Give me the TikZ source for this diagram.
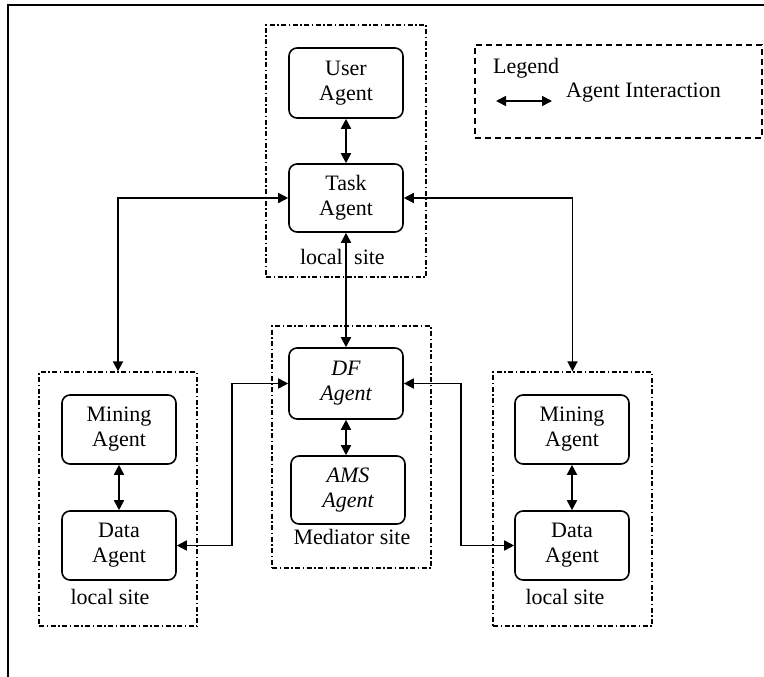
\documentclass[tikz,border=0pt]{standalone}
\usepackage{fontspec}
\setmainfont{Liberation Serif}
\usetikzlibrary{arrows.meta}
\tikzset{
  agent/.style={draw, line width=1.6pt, rounded corners=8pt, minimum width=114pt, minimum height=69pt, align=center, inner sep=0pt, font=\fontsize{22}{25}\selectfont},
  sitebox/.style={draw, line width=1.3pt, dash pattern=on 5pt off 2.5pt on 1.5pt off 2.5pt, inner sep=0pt},
  legendbox/.style={draw, line width=1.3pt, dash pattern=on 6pt off 4pt, inner sep=0pt},
  link/.style={line width=1.7pt, {Triangle[length=10pt,width=10pt]}-{Triangle[length=10pt,width=10pt]}},
  lbl/.style={inner sep=0pt, font=\fontsize{22}{25}\selectfont}
}
\begin{document}
\begin{tikzpicture}[x=1pt,y=-1pt]
\useasboundingbox (0,0) rectangle (764,677);
% outer frame (left and top edges visible)
\draw[line width=2pt] (8,677) -- (8,5) -- (764,5);
% site boxes
\node[sitebox, minimum width=160pt, minimum height=252pt] (topsite) at (346,151) {};
\node[sitebox, minimum width=159pt, minimum height=242pt] (medsite) at (351.5,447) {};
\node[sitebox, minimum width=158pt, minimum height=254pt] (lsite) at (118,499) {};
\node[sitebox, minimum width=159pt, minimum height=254pt] (rsite) at (572.5,499) {};
\node[legendbox, minimum width=287pt, minimum height=93pt] (legend) at (618.5,91.5) {};
% agents
\node[agent, minimum height=70pt] (user) at (346,83) {User\\Agent};
\node[agent, minimum height=68pt] (task) at (346,198) {Task\\Agent};
\node[agent, minimum height=71pt, font=\fontsize{22}{25}\selectfont\itshape] (df) at (346,383.5) {DF\\Agent};
\node[agent, minimum height=68pt, font=\fontsize{22}{25}\selectfont\itshape] (ams) at (348,490) {AMS\\Agent};
\node[agent] (lmine) at (119,429.5) {Mining\\Agent};
\node[agent] (ldata) at (119,545.5) {Data\\Agent};
\node[agent] (rmine) at (572,429.5) {Mining\\Agent};
\node[agent] (rdata) at (572,545.5) {Data\\Agent};
% labels
\node[lbl, anchor=east] (tl1) at (343,257) {local};
\node[lbl, anchor=west] (tl2) at (354,257) {site};
\node[lbl] (medlbl) at (352,537) {Mediator site};
\node[lbl] (llbl) at (110,597) {local site};
\node[lbl] (rlbl) at (565,597) {local site};
\node[lbl, anchor=west] (legtitle) at (493,68) {Legend};
\node[lbl, anchor=west] (legtext) at (566,93) {Agent Interaction};
% coordinates
\coordinate (la) at (496,101);
\coordinate (lb) at (552,101);
\coordinate (lj) at (232,464);
\coordinate (rj) at (461,464);
% connectors
\draw[link] (user) -- (task);
\draw[link] (task.south) -- (df.north);
\draw[link] (df.south) -- (df.south |- ams.north);
\draw[link] (lmine) -- (ldata);
\draw[link] (rmine) -- (rdata);
\draw[link] (task.west) -| (lsite.north);
\draw[link] (task.east) -| (rsite.north);
\draw[link] (ldata.east) -| (lj) |- (df.west);
\draw[link] (rdata.west) -| (rj) |- (df.east);
\draw[link] (la) -- (lb);
\end{tikzpicture}
\end{document}
